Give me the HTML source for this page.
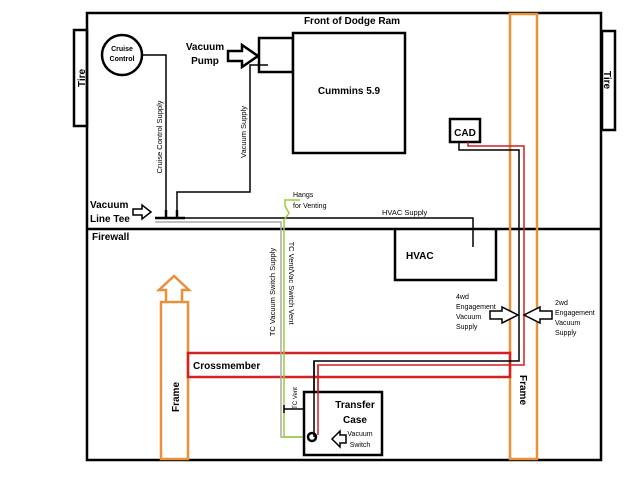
<!DOCTYPE html>
<html><head><meta charset="utf-8"><style>
html,body{margin:0;padding:0;background:#fff;overflow:hidden;}
svg{display:block;font-family:"Liberation Sans",sans-serif;font-weight:bold;}
</style></head><body>
<svg width="640" height="480" viewBox="0 0 640 480" xmlns="http://www.w3.org/2000/svg">
<rect width="640" height="480" fill="#fff"/>
<rect x="74" y="30" width="13" height="96" fill="#fff" stroke="#000" stroke-width="2.5"/>
<rect x="602" y="31" width="13" height="99" fill="#fff" stroke="#000" stroke-width="2.5"/>
<text transform="translate(85,78) rotate(-90)" font-size="10" text-anchor="middle">Tire</text>
<text transform="translate(604,80) rotate(90)" font-size="10" text-anchor="middle">Tire</text>
<rect x="87" y="13" width="514" height="447" fill="none" stroke="#000" stroke-width="2.5"/>
<line x1="87" y1="229" x2="601" y2="229" stroke="#000" stroke-width="2.5"/>
<text x="352" y="24" font-size="10" text-anchor="middle">Front of Dodge Ram</text>
<text x="92" y="240" font-size="10">Firewall</text>
<rect x="510" y="14" width="27" height="445" fill="none" stroke="#e8913a" stroke-width="2.5"/>
<text transform="translate(520,390) rotate(90)" font-size="10" text-anchor="middle">Frame</text>
<rect x="161" y="302" width="27" height="157" fill="none" stroke="#e8913a" stroke-width="2.5"/>
<path d="M166,302 V290 H159 L174,276 L189,290 H182 V302" fill="none" stroke="#e8913a" stroke-width="2.5"/>
<text transform="translate(179,397) rotate(-90)" font-size="10" text-anchor="middle">Frame</text>
<rect x="188" y="353" width="322" height="24" fill="none" stroke="#d42020" stroke-width="2.5"/>
<text x="193" y="369" font-size="10">Crossmember</text>
<circle cx="122" cy="55" r="20" fill="#fff" stroke="#000" stroke-width="2.5"/>
<text x="122" y="51" font-size="7" text-anchor="middle">Cruise</text>
<text x="122" y="61" font-size="7" text-anchor="middle">Control</text>
<polyline points="142,55 166,55 166,218" fill="none" stroke="#000" stroke-width="1.5"/>
<text transform="translate(162,137) rotate(-90)" font-size="7.5" font-weight="normal" text-anchor="middle">Cruise Control Supply</text>
<rect x="259" y="38" width="34" height="34" fill="#fff" stroke="#000" stroke-width="2.5"/>
<line x1="259" y1="65" x2="268" y2="65" stroke="#000" stroke-width="1.5"/>
<polyline points="259,65 250,65 250,192 177,192 177,218" fill="none" stroke="#000" stroke-width="1.5"/>
<text transform="translate(246,132) rotate(-90)" font-size="7.5" font-weight="normal" text-anchor="middle">Vacuum Supply</text>
<text x="205" y="50" font-size="10" text-anchor="middle">Vacuum</text>
<text x="205" y="64" font-size="10" text-anchor="middle">Pump</text>
<path d="M228,51 H242 V45 L258,56 L242,67 V61 H228 Z" fill="#fff" stroke="#000" stroke-width="2.5"/>
<rect x="293" y="33" width="112" height="120" fill="#fff" stroke="#000" stroke-width="2.5"/>
<text x="349" y="94" font-size="10" text-anchor="middle">Cummins 5.9</text>
<text x="90" y="208" font-size="10">Vacuum</text>
<text x="90" y="222" font-size="10">Line Tee</text>
<path d="M133,209 H142 V205 L151,212 L142,219 V215 H133 Z" fill="#fff" stroke="#000" stroke-width="1.5"/>
<line x1="155" y1="218" x2="185" y2="218" stroke="#000" stroke-width="2.5"/>
<line x1="166" y1="210" x2="166" y2="218" stroke="#000" stroke-width="2.5"/>
<line x1="177" y1="210" x2="177" y2="218" stroke="#000" stroke-width="2.5"/>
<polyline points="185,218 473,218 473,247" fill="none" stroke="#000" stroke-width="1.5"/>
<text x="382" y="215" font-size="7.5" font-weight="normal">HVAC Supply</text>
<polyline points="156,221 156,222 281,222 281,437 305,437" fill="none" stroke="#aaa" stroke-width="1.5"/>
<path d="M300,200 H285 V206 L289,213 L284,220 V437 H308" fill="none" stroke="#9acd32" stroke-width="1.5"/>
<text x="293" y="197" font-size="7" font-weight="normal">Hangs</text>
<text x="293" y="208" font-size="7" font-weight="normal">for Venting</text>
<text transform="translate(275,292) rotate(-90)" font-size="7.5" font-weight="normal" text-anchor="middle">TC Vacuum Switch Supply</text>
<text transform="translate(289,283) rotate(90)" font-size="7.5" font-weight="normal" text-anchor="middle">TC Vent/Vac Switch Vent</text>
<line x1="284" y1="409" x2="310" y2="409" stroke="#000" stroke-width="1.5"/>
<line x1="284" y1="405" x2="284" y2="413" stroke="#000" stroke-width="1.5"/>
<text transform="translate(297,398) rotate(-90)" font-size="6" font-weight="normal" text-anchor="middle">TC Vent</text>
<path d="M395,229 V280 H496 V229" fill="none" stroke="#000" stroke-width="2.5"/>
<text x="406" y="259" font-size="10">HVAC</text>
<rect x="450" y="119" width="30" height="23" fill="#fff" stroke="#000" stroke-width="2.5"/>
<text x="465" y="136" font-size="10" text-anchor="middle">CAD</text>
<polyline points="459,142 459,150 519,150 519,361 314,361 314,437" fill="none" stroke="#000" stroke-width="1.5"/>
<polyline points="468,142 468,146 524,146 524,365 318,365 318,435" fill="none" stroke="#d42020" stroke-width="1.5"/>
<rect x="304" y="392" width="78" height="63" fill="#fff" stroke="#000" stroke-width="2.5"/>
<polyline points="314,361 314,437" fill="none" stroke="#000" stroke-width="1.5"/>
<polyline points="318,365 318,435" fill="none" stroke="#d42020" stroke-width="1.5"/>
<circle cx="312" cy="437" r="4" fill="none" stroke="#000" stroke-width="2.5"/>
<text x="355" y="408" font-size="10" text-anchor="middle">Transfer</text>
<text x="355" y="423" font-size="10" text-anchor="middle">Case</text>
<text x="360" y="436" font-size="7" font-weight="normal" text-anchor="middle">Vacuum</text>
<text x="360" y="447" font-size="7" font-weight="normal" text-anchor="middle">Switch</text>
<path d="M346,435 H340 V431 L332,439 L340,447 V443 H346 Z" fill="#fff" stroke="#000" stroke-width="1.5"/>
<text x="456" y="299" font-size="7" font-weight="normal">4wd</text>
<text x="456" y="309" font-size="7" font-weight="normal">Engagement</text>
<text x="456" y="319" font-size="7" font-weight="normal">Vacuum</text>
<text x="456" y="329" font-size="7" font-weight="normal">Supply</text>
<path d="M490,311 H502 V307 L518,315 L502,323 V319 H490 Z" fill="#fff" stroke="#000" stroke-width="1.5"/>
<path d="M552,311 H540 V307 L524,315 L540,323 V319 H552 Z" fill="#fff" stroke="#000" stroke-width="1.5"/>
<text x="555" y="305" font-size="7" font-weight="normal">2wd</text>
<text x="555" y="315" font-size="7" font-weight="normal">Engagement</text>
<text x="555" y="325" font-size="7" font-weight="normal">Vacuum</text>
<text x="555" y="335" font-size="7" font-weight="normal">Supply</text>
</svg>
</body></html>
